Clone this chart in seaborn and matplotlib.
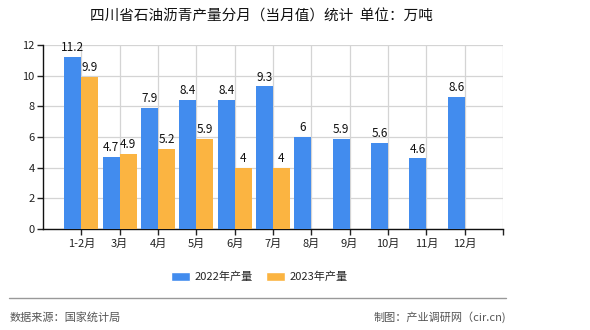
import numpy as np
import pandas as pd
import matplotlib
matplotlib.use("Agg")
import matplotlib.pyplot as plt
import seaborn as sns
from matplotlib.patches import Patch
from matplotlib.lines import Line2D

months = ["1-2月", "3月", "4月", "5月", "6月", "7月", "8月", "9月", "10月", "11月", "12月"]
series_2022 = [11.2, 4.7, 7.9, 8.4, 8.4, 9.3, 6, 5.9, 5.6, 4.6, 8.6]
series_2023 = [9.9, 4.9, 5.2, 5.9, 4, 4]
series_names = ["2022年产量", "2023年产量"]
title = "四川省石油沥青产量分月（当月值）统计  单位：万吨"
source_text = "数据来源：国家统计局"
credit_text = "制图：产业调研网（cir.cn)"
colors = ["#428CEE", "#FBB441"]

rows = []
for m, v in zip(months, series_2022):
    rows.append({"month": m, "series": series_names[0], "value": v})
for m, v in zip(months, series_2023):
    rows.append({"month": m, "series": series_names[1], "value": v})
df = pd.DataFrame(rows)

sns.set_theme(style="white")
plt.rcParams['font.family'] = ['Noto Sans CJK SC', 'DejaVu Sans']

fig = plt.figure(figsize=(5.9, 3.3), dpi=100)
ax = fig.add_axes([43/590, 1-229/330, 460/590, 184/330])

sns.barplot(data=df, x="month", y="value", hue="series", order=months,
            hue_order=series_names, palette=colors, width=0.88,
            saturation=1, errorbar=None, legend=False, ax=ax, zorder=3,
            linewidth=0, edgecolor="none")

for c in ax.containers:
    labels = ["%g" % b.get_height() for b in c]
    ax.bar_label(c, labels=labels, padding=2, fontsize=8.5, color="#111111")

ax.set_xlim(-1, 11)
ax.set_ylim(0, 12)
ax.set_yticks(np.arange(0, 13, 2))
ax.set_xticks(range(len(months)))
ax.set_xticklabels(months)
ax.set_xticks([11], minor=True)
ax.set_xlabel("")
ax.set_ylabel("")
ax.tick_params(axis="both", which="both", labelsize=8, colors="#222222", length=4,
               width=1, direction="out")
ax.tick_params(axis="x", which="both", bottom=True, pad=3)
ax.tick_params(axis="y", left=True, pad=2)
ax.grid(True, which="both", color="#d4d4d4", linewidth=0.9, zorder=0)
ax.set_axisbelow(True)
for s in ["top", "right"]:
    ax.spines[s].set_visible(False)
for s in ["left", "bottom"]:
    ax.spines[s].set_color("#111111")
    ax.spines[s].set_linewidth(1)

fig.text(261/590, 1-17/330, title, ha="center", va="center", fontsize=10.5, color="#111111")

handles = [Patch(facecolor=colors[0]), Patch(facecolor=colors[1])]
fig.legend(handles, series_names, loc="center", bbox_to_anchor=(259/590, 1-277/330),
           ncol=2, frameon=False, fontsize=8, handlelength=1.7, handleheight=0.8,
           columnspacing=1.2, handletextpad=0.4)

fig.add_artist(Line2D([9/590, 506/590], [1-298/330, 1-298/330], color="#999999",
                      linewidth=1, transform=fig.transFigure))
fig.text(10/590, 1-317/330, source_text, ha="left", va="center", fontsize=8, color="#555555")
fig.text(506/590, 1-317/330, credit_text, ha="right", va="center", fontsize=8, color="#555555")

fig.savefig("out.png", dpi=100)
